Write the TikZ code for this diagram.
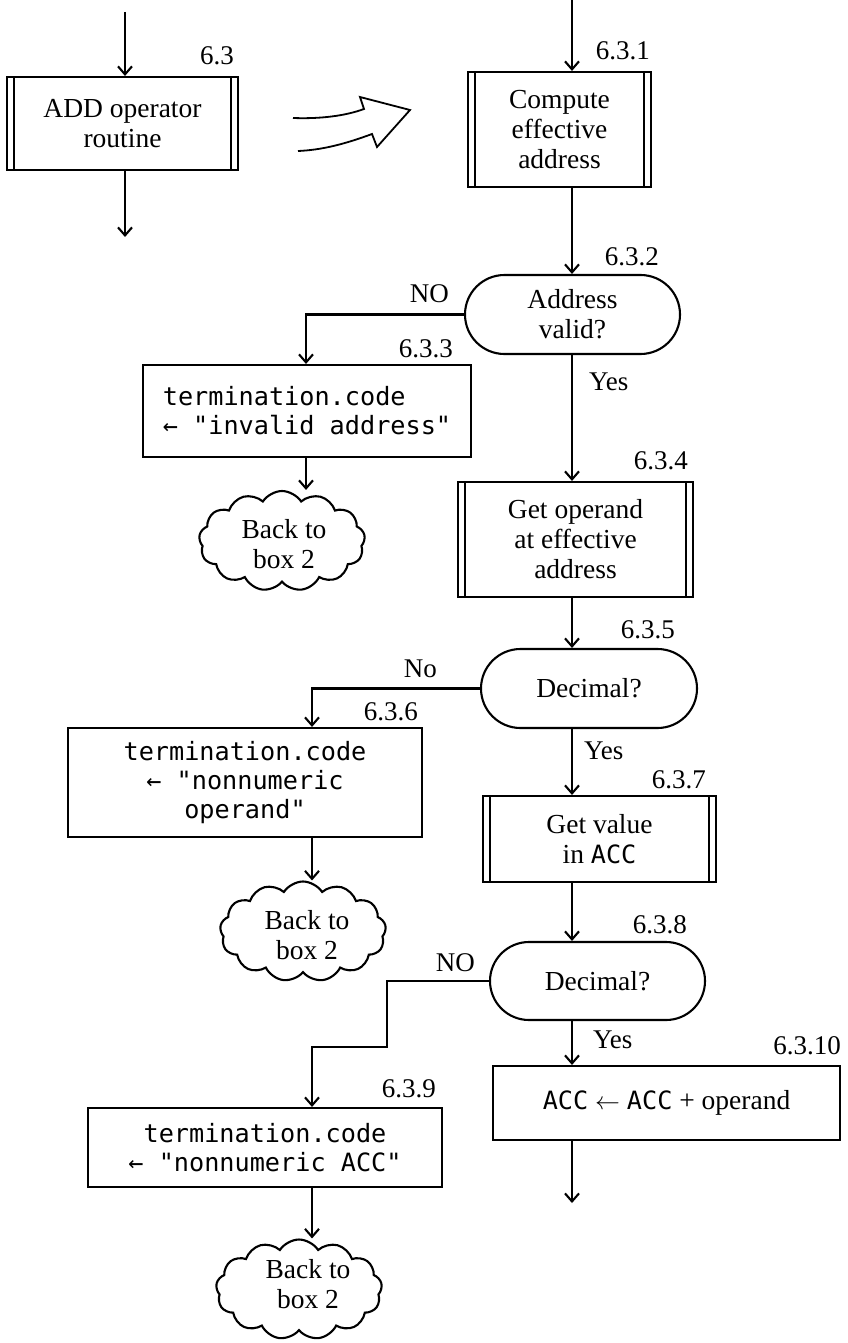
\documentclass[tikz,border=0pt]{standalone}
\usepackage{fontspec}
\setmainfont{Liberation Serif}
\newfontfamily\monof{DejaVu Sans Mono}
\usetikzlibrary{arrows.meta,shapes.misc,shapes.symbols}
\newcommand\mACC{{\monof\fontsize{25.2}{30}\selectfont ACC}}
\begin{document}
\begin{tikzpicture}[x=1pt,y=-1pt,
  line width=2.1pt,
  every node/.style={inner sep=0pt},
  serif/.style={font=\fontsize{27.5}{30}\selectfont},
  mono/.style={font=\monof\fontsize{25.2}{29}\selectfont},
  lbl/.style={font=\fontsize{27}{30}\selectfont, anchor=base east},
  lblw/.style={font=\fontsize{27}{30}\selectfont, anchor=base west},
  procbox/.style={draw, rectangle, align=center, serif,
    path picture={\draw[line width=1.8pt]
      ([xshift=7pt]path picture bounding box.north west) -- ([xshift=7pt]path picture bounding box.south west)
      ([xshift=-7pt]path picture bounding box.north east) -- ([xshift=-7pt]path picture bounding box.south east);}},
  plainbox/.style={draw, rectangle, mono},
  decision/.style={draw, rounded rectangle, serif, align=center},
  cloudnode/.style={draw, cloud, cloud puffs=13, cloud puff arc=115, cloud ignores aspect,
    minimum width=166pt, minimum height=100pt, inner sep=0pt},
  cloudtext/.style={serif, align=center},
  arr/.style={-{Straight Barb[length=8pt,width=14pt]}},
]
\useasboundingbox (0,0) rectangle (847,1343);

% ---- left: the routine box
\node[procbox, minimum width=231pt, minimum height=93pt] (b63) at (122.5,123.5) {ADD operator\\routine};
\node[lbl] (l63) at (235,65) {6.3};
\coordinate (in63) at (125,12);
\coordinate (out63) at (125,237);
\draw[arr] (in63) -- (in63 |- b63.north);
\draw[arr] (out63 |- b63.south) -- (out63);

% ---- big hollow arrow
\draw[line width=1.8pt, line join=miter]
  (293,118) .. controls (320,119) and (345,116) .. (364,109)
  -- (360,97) -- (410,110) -- (377,147) -- (372,134)
  .. controls (345,144) and (322,150) .. (298,151);

% ---- main column
\coordinate (top) at (572,0);
\coordinate (col2) at (312,0);
\coordinate (col1) at (306,0);

\node[procbox, minimum width=183pt, minimum height=115pt] (b631) at (559.5,129.5) {Compute\\effective\\address};
\node[lbl] (l631) at (651,60) {6.3.1};
\draw[arr] (top) -- (top |- b631.north);

\node[decision, minimum width=215pt, minimum height=79pt] (d632) at (572.5,314.5) {Address\\valid?};
\node[lbl] (l632) at (660,265) {6.3.2};
\draw[arr] (top |- b631.south) -- (top |- d632.north);

\node[lbl] (no632) at (450,302) {NO};
\node[plainbox, align=left, minimum width=328pt, minimum height=92pt] (b633) at (307,411) {termination.code\\← "invalid address"};
\node[lbl] (l633) at (454,357) {6.3.3};
\draw[arr] (d632.west) -| (col1 |- b633.north);

\node[cloudnode] (c1) at (282,541) {};
\node[cloudtext] (t1) at (284,544) {Back to\\box 2};
\draw[arr] (col1 |- b633.south) -- (col1 |- c1.north);

\node[lblw] (y632) at (588,390) {Yes};
\node[procbox, minimum width=235pt, minimum height=115pt] (b634) at (575.5,539.5) {Get operand\\at effective\\address};
\node[lbl] (l634) at (689,469) {6.3.4};
\draw[arr] (top |- d632.south) -- (top |- b634.north);

\node[decision, minimum width=216pt, minimum height=79pt] (d635) at (589,688.5) {Decimal?};
\node[lbl] (l635) at (676,638) {6.3.5};
\draw[arr] (top |- b634.south) -- (top |- d635.north);

\node[lbl] (no635) at (438,677) {No};
\node[plainbox, align=center, minimum width=354pt, minimum height=109pt] (b636) at (245,782.5) {termination.code\\← "nonnumeric\\operand"};
\node[lbl] (l636) at (419,720) {6.3.6};
\draw[arr] (d635.west) -| (col2 |- b636.north);

\node[cloudnode] (c2) at (303,931.5) {};
\node[cloudtext] (t2) at (307,935) {Back to\\box 2};
\draw[arr] (col2 |- b636.south) -- (col2 |- c2.north);

\node[lblw] (y635) at (583,759) {Yes};
\node[procbox, minimum width=233pt, minimum height=86pt] (b637) at (599.5,839) {Get value\\in \mACC};
\node[lbl] (l637) at (707,788) {6.3.7};
\draw[arr] (top |- d635.south) -- (top |- b637.north);

\node[decision, minimum width=215pt, minimum height=78pt] (d638) at (597.5,981) {Decimal?};
\node[lbl] (l638) at (688,933) {6.3.8};
\draw[arr] (top |- b637.south) -- (top |- d638.north);

\node[lbl] (no638) at (476,971) {NO};
\coordinate (jog) at (387,1047);
\node[plainbox, align=center, minimum width=354pt, minimum height=79pt] (b639) at (265,1147.5) {termination.code\\← "nonnumeric ACC"};
\node[lbl] (l639) at (437,1097) {6.3.9};
\draw[arr] (d638.west) -| (jog) -| (col2 |- b639.north);

\node[cloudnode] (c3) at (299,1289.5) {};
\node[cloudtext] (t3) at (308,1284) {Back to\\box 2};
\draw[arr] (col2 |- b639.south) -- (col2 |- c3.north);

\node[lblw] (y638) at (592,1048) {Yes};
\node[draw, rectangle, serif, minimum width=347pt, minimum height=74pt] (b6310) at (666.5,1103) {\mACC{} $\leftarrow$ \mACC{} + operand};
\node[lbl] (l6310) at (842,1054) {6.3.10};
\draw[arr] (top |- d638.south) -- (top |- b6310.north);
\coordinate (endarr) at (572,1203);
\draw[arr] (endarr |- b6310.south) -- (endarr);
\end{tikzpicture}
\end{document}
